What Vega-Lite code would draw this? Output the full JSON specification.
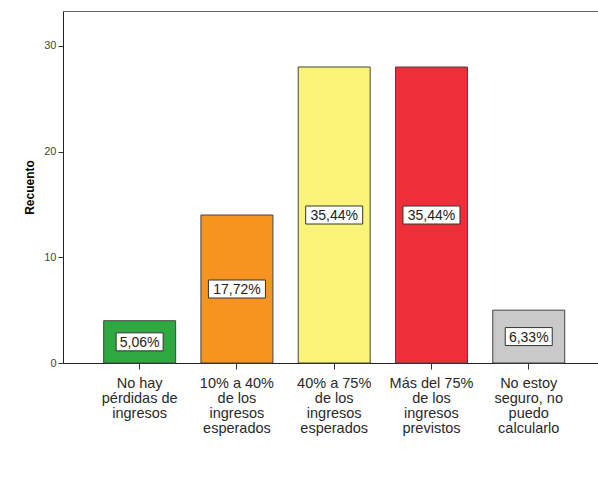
{
  "$schema": "https://vega.github.io/schema/vega-lite/v6.json",
  "autosize": "none",
  "width": 535,
  "height": 352,
  "padding": {"left": 63, "top": 11, "right": 0, "bottom": 121},
  "background": "white",
  "config": {
    "font": "Liberation Sans",
    "view": {"stroke": null}
  },
  "data": {
    "values": [
      {"categoria": "No hay pérdidas de ingresos", "recuento": 4, "porcentaje": "5,06%"},
      {"categoria": "10% a 40% de los ingresos esperados", "recuento": 14, "porcentaje": "17,72%"},
      {"categoria": "40% a 75% de los ingresos esperados", "recuento": 28, "porcentaje": "35,44%"},
      {"categoria": "Más del 75% de los ingresos previstos", "recuento": 28, "porcentaje": "35,44%"},
      {"categoria": "No estoy seguro, no puedo calcularlo", "recuento": 5, "porcentaje": "6,33%"}
    ]
  },
  "transform": [{"calculate": "datum.recuento / 2", "as": "medio"}],
  "resolve": {"axis": {"x": "independent"}},
  "layer": [
    {
      "mark": {"type": "bar", "stroke": "#444444", "strokeWidth": 1},
      "encoding": {
        "x": {
          "field": "categoria", "type": "nominal", "sort": null,
          "scale": {"paddingInner": 0.26, "paddingOuter": 0.38, "align": 0.55},
          "axis": {
            "title": null, "labelAngle": 0, "labelFontSize": 14.5, "labelColor": "#2a2a2a",
            "labelLineHeight": 15, "labelBaseline": "top", "labelPadding": 7,
            "tickSize": 6, "tickColor": "#333333", "domainColor": "#222222",
            "labelExpr": "({'No hay pérdidas de ingresos': ['No hay', 'pérdidas de', 'ingresos'], '10% a 40% de los ingresos esperados': ['10% a 40%', 'de los', 'ingresos', 'esperados'], '40% a 75% de los ingresos esperados': ['40% a 75%', 'de los', 'ingresos', 'esperados'], 'Más del 75% de los ingresos previstos': ['Más del 75%', 'de los', 'ingresos', 'previstos'], 'No estoy seguro, no puedo calcularlo': ['No estoy', 'seguro, no', 'puedo', 'calcularlo']})[datum.value]"
          }
        },
        "y": {
          "field": "recuento", "type": "quantitative",
          "scale": {"domain": [0, 33.3], "nice": false},
          "axis": {
            "title": "Recuento", "titleFontSize": 12, "titleFontWeight": "bold", "titleColor": "#000000",
            "titlePadding": 7, "values": [0, 10, 20, 30], "grid": false, "tickSize": 5,
            "labelFontSize": 11, "labelColor": "#444444", "labelPadding": 2,
            "tickColor": "#333333", "domainColor": "#222222"
          }
        },
        "fill": {
          "field": "categoria", "type": "nominal", "sort": null, "legend": null,
          "scale": {
            "domain": ["No hay pérdidas de ingresos", "10% a 40% de los ingresos esperados", "40% a 75% de los ingresos esperados", "Más del 75% de los ingresos previstos", "No estoy seguro, no puedo calcularlo"],
            "range": ["#2fa83f", "#f7941f", "#f9f477", "#ee2f3a", "#c9c9c9"]
          }
        }
      }
    },
    {
      "transform": [{"filter": "datum.recuento < 10"}],
      "mark": {"type": "point", "filled": false, "fill": "white", "fillOpacity": 1, "stroke": "#333333", "strokeWidth": 1, "opacity": 1, "shape": "M-1,-0.383L1,-0.383L1,0.383L-1,0.383Z", "size": 2209},
      "encoding": {
        "x": {"field": "categoria", "type": "nominal", "sort": null,
          "axis": {"orient": "top", "labels": false, "ticks": false, "title": null, "domainColor": "#666666"}},
        "y": {"field": "medio", "type": "quantitative"}
      }
    },
    {
      "transform": [{"filter": "datum.recuento >= 10"}],
      "mark": {"type": "point", "filled": false, "fill": "white", "fillOpacity": 1, "stroke": "#333333", "strokeWidth": 1, "opacity": 1, "shape": "M-1,-0.316L1,-0.316L1,0.316L-1,0.316Z", "size": 3249},
      "encoding": {
        "x": {"field": "categoria", "type": "nominal", "sort": null, "axis": null},
        "y": {"field": "medio", "type": "quantitative"}
      }
    },
    {
      "mark": {"type": "text", "fontSize": 14, "color": "#222222", "baseline": "middle", "align": "center", "dy": 1},
      "encoding": {
        "x": {"field": "categoria", "type": "nominal", "sort": null, "axis": null},
        "y": {"field": "medio", "type": "quantitative"},
        "text": {"field": "porcentaje"}
      }
    }
  ]
}
